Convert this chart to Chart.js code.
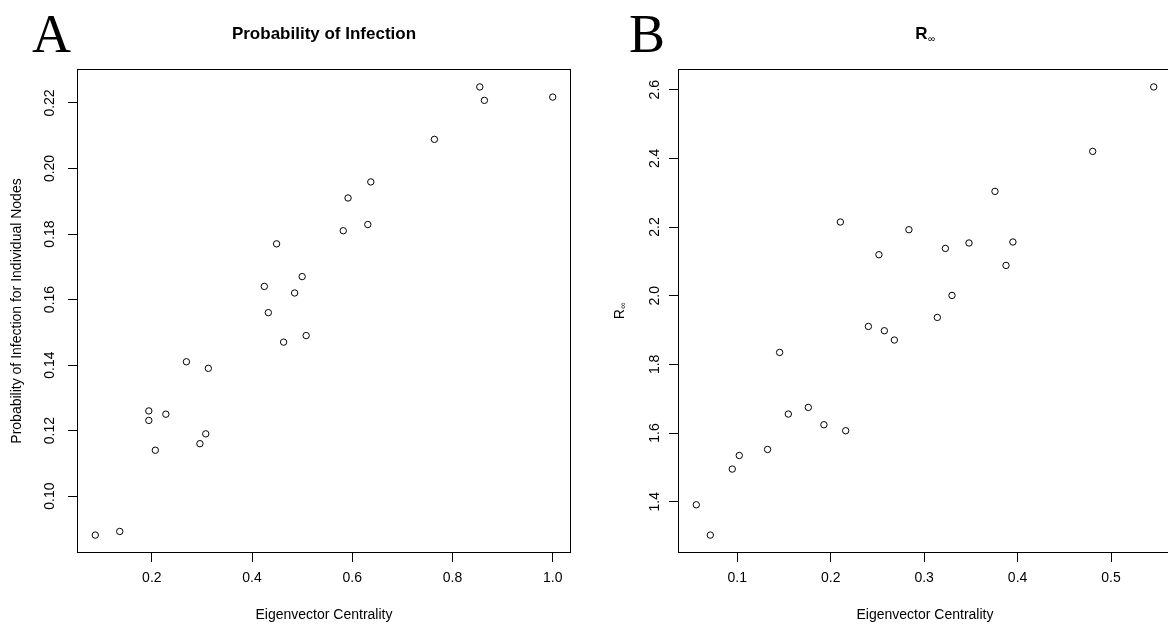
<!DOCTYPE html>
<html><head><meta charset="utf-8">
<script src="https://cdn.jsdelivr.net/npm/chart.js@4.4.1/dist/chart.umd.min.js"></script>
<style>
html,body{margin:0;padding:0;background:#fff;overflow:hidden;width:1168px;height:631px;position:relative}
#wa{position:absolute;left:0;top:0;width:584px;height:631px}
#wb{position:absolute;left:584px;top:0;width:600px;height:631px}
canvas{display:block}
</style></head><body>
<div id="wa"><canvas id="ca" width="584" height="631"></canvas></div>
<div id="wb"><canvas id="cb" width="600" height="631"></canvas></div>
<script>
// ---- Panel A data: Eigenvector centrality vs probability of infection
const centralityA = [0.449,0.500,0.4245,0.485,0.8545,0.8637,1.000,0.764,0.637,0.5916,0.631,0.582,0.4325,0.463,0.508,0.269,0.3128,0.194,0.194,0.228,0.3076,0.296,0.207,0.0872,0.136];
const infectionA  = [0.177,0.167,0.164,0.162,0.2249,0.2208,0.2218,0.2089,0.1959,0.191,0.1829,0.181,0.156,0.147,0.149,0.141,0.139,0.126,0.1231,0.125,0.119,0.116,0.114,0.0881,0.0892];
const xTicksA = [0.2,0.4,0.6,0.8,1.0];
const xTickLabelsA = ["0.2","0.4","0.6","0.8","1.0"];
const yTicksA = [0.10,0.12,0.14,0.16,0.18,0.20,0.22];
const yTickLabelsA = ["0.10","0.12","0.14","0.16","0.18","0.20","0.22"];

// ---- Panel B data: Eigenvector centrality vs R-infinity
const centralityB = [0.2103,0.2516,0.2837,0.5457,0.4804,0.3758,0.3227,0.348,0.395,0.3876,0.3298,0.2403,0.2574,0.2681,0.1453,0.1546,0.176,0.1927,0.216,0.1324,0.0946,0.1021,0.0561,0.0711,0.3141];
const rInfB = [2.2146,2.1194,2.1922,2.608,2.4203,2.3038,2.1377,2.1535,2.1564,2.0882,2.0008,1.9105,1.898,1.8709,1.8348,1.6553,1.6746,1.6242,1.6067,1.5522,1.4951,1.5347,1.3911,1.3029,1.9367];
const xTicksB = [0.1,0.2,0.3,0.4,0.5];
const xTickLabelsB = ["0.1","0.2","0.3","0.4","0.5"];
const yTicksB = [1.4,1.6,1.8,2.0,2.2,2.4,2.6];
const yTickLabelsB = ["1.4","1.6","1.8","2.0","2.2","2.4","2.6"];

const FONT = '"Liberation Sans", Arial, Helvetica, sans-serif';

function rangeOf(arr){ // R-style 4% extension
  const mn = Math.min(...arr), mx = Math.max(...arr), d = (mx-mn)*0.04;
  return [mn-d, mx+d];
}

function drawSub(ctx, main, sub, cx, cy, f1, f2, dy){
  ctx.font = f1; const w1 = ctx.measureText(main).width;
  let w2 = 0; if (sub){ ctx.font = f2; w2 = ctx.measureText(sub).width; }
  const x0 = cx - (w1+w2)/2;
  ctx.textAlign='left'; ctx.textBaseline='middle';
  ctx.font = f1; ctx.fillText(main, x0, cy);
  if (sub){ ctx.font = f2; ctx.fillText(sub, x0+w1+0.5, cy+dy); }
}

function panelPlugin(p){
  return {
    id: 'panel'+p.letter,
    afterDraw(chart){
      const ctx = chart.ctx, a = chart.chartArea;
      ctx.save();
      ctx.strokeStyle = '#000'; ctx.lineWidth = 1;
      ctx.strokeRect(Math.round(a.left)+0.5, Math.round(a.top)+0.5, Math.round(a.right-a.left)-1, Math.round(a.bottom-a.top)-1);
      ctx.fillStyle = '#000';
      ctx.font = '54px "Liberation Serif", "Times New Roman", serif';
      ctx.textAlign = 'left'; ctx.textBaseline = 'alphabetic';
      ctx.fillText(p.letter, p.letterX, 52);
      drawSub(ctx, p.title, p.titleSub, (a.left+a.right)/2, 34, 'bold 17px '+FONT, '10px '+FONT, 5);
      if (p.yTitle){
        ctx.translate(p.yTitleX, (a.top+a.bottom)/2);
        ctx.rotate(-Math.PI/2);
        drawSub(ctx, p.yTitle, p.yTitleSub, 0, 0, '14px '+FONT, '9px '+FONT, 4);
      }
      ctx.restore();
    }
  };
}

function makeChart(id, xs, ys, cfg){
  const xr = rangeOf(xs), yr = rangeOf(ys);
  const pts = xs.map((x,i)=>({x:x, y:ys[i]}));
  const tickFont = {family:FONT, size:14};
  return new Chart(document.getElementById(id), {
    type:'scatter',
    data:{datasets:[{data:pts, pointStyle:'circle', pointRadius:3.2, pointHoverRadius:3.2,
      borderColor:'#000', backgroundColor:'rgba(0,0,0,0)', pointBorderWidth:1, borderWidth:1}]},
    options:{
      responsive:false, animation:false, devicePixelRatio:1,
      layout:{padding:{top:69, right:cfg.padRight, left:0, bottom:0}},
      plugins:{legend:{display:false}, tooltip:{enabled:false}, title:{display:false}},
      scales:{
        x:{type:'linear', min:xr[0], max:xr[1],
          afterFit(s){ s.height = 78; },
          afterBuildTicks(s){ s.ticks = cfg.xTicks.map(v=>({value:v})); },
          ticks:{callback:(v,i)=>cfg.xLabels[i], font:tickFont, color:'#000', padding:8, maxRotation:0, minRotation:0, autoSkip:false},
          grid:{drawOnChartArea:false, drawTicks:true, tickLength:9, tickColor:'#000', tickWidth:1},
          border:{display:false},
          title:{display:true, text:'Eigenvector Centrality', font:{family:FONT,size:14}, color:'#000', padding:{top:0,bottom:7}}
        },
        y:{type:'linear', min:yr[0], max:yr[1],
          afterFit(s){ s.width = cfg.yWidth; },
          afterBuildTicks(s){ s.ticks = cfg.yTicks.map(v=>({value:v})); },
          ticks:{callback:(v,i)=>cfg.yLabels[i], font:tickFont, color:'#000', padding:cfg.yPad, minRotation:90, maxRotation:90, crossAlign:'center', autoSkip:false},
          grid:{drawOnChartArea:false, drawTicks:true, tickLength:9, tickColor:'#000', tickWidth:1},
          border:{display:false},
          title: cfg.yTitleText ? {display:true, text:cfg.yTitleText, font:{family:FONT,size:14}, color:'#000', padding:{top:cfg.yTitlePad,bottom:0}} : {display:false}
        }
      }
    },
    plugins:[panelPlugin(cfg.panel)]
  });
}

makeChart('ca', centralityA, infectionA, {
  padRight:13, yWidth:77, yPad:4,
  xTicks:xTicksA, xLabels:xTickLabelsA, yTicks:yTicksA, yLabels:yTickLabelsA,
  yTitleText:'Probability of Infection for Individual Nodes', yTitlePad:9,
  panel:{letter:'A', letterX:32, title:'Probability of Infection', titleSub:''}
});
makeChart('cb', centralityB, rInfB, {
  padRight:12, yWidth:94, yPad:4,
  xTicks:xTicksB, xLabels:xTickLabelsB, yTicks:yTicksB, yLabels:yTickLabelsB,
  yTitleText:null,
  panel:{letter:'B', letterX:45, title:'R', titleSub:'\u221e', yTitle:'R', yTitleSub:'\u221e', yTitleX:36}
});
</script>
</body></html>
